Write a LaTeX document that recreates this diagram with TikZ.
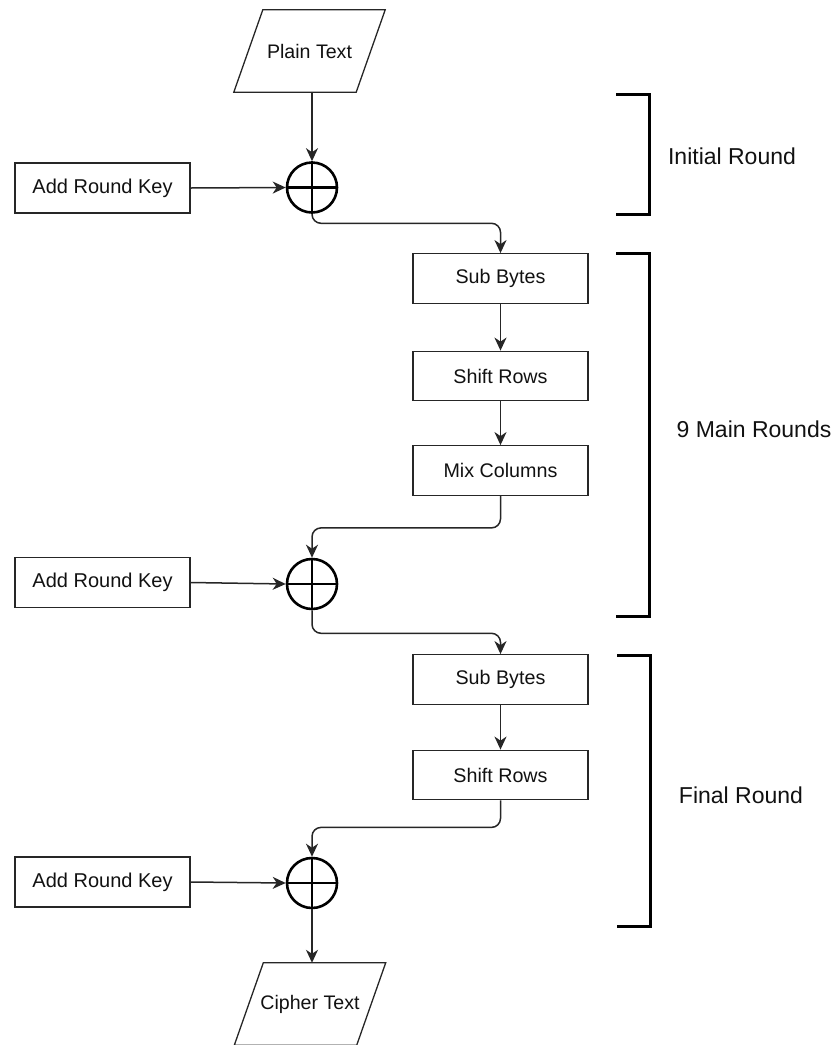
\documentclass[tikz,border=0pt]{standalone}
\usepackage{fontspec}
\setmainfont{Liberation Sans}
\usetikzlibrary{arrows.meta,calc}
\definecolor{ink}{HTML}{111111}
\definecolor{edge}{HTML}{262626}
\begin{document}
\begin{tikzpicture}[x=1pt,y=-1pt,
  stepbox/.style={draw=edge,line width=1.3pt,minimum width=175pt,minimum height=49.5pt,inner sep=0pt,
    font=\fontsize{19.7}{22}\selectfont,text=ink},
  keybox/.style={stepbox,minimum height=50pt,font=\fontsize{20}{24}\selectfont},
  xorop/.style={circle,draw=black,line width=2.6pt,minimum size=50pt,inner sep=0pt},
  iobox/.style={minimum width=122pt,minimum height=82pt,inner sep=0pt,
    font=\fontsize{19.6}{22}\selectfont,text=ink},
  ioshape/.style={draw=edge,line width=1.3pt},
  flow/.style={draw=edge,line width=1.5pt,-{Stealth[length=13pt,width=12pt,inset=4pt]},rounded corners=9pt},
  bracket/.style={draw=black,line width=3pt},
  roundlabel/.style={font=\fontsize{23}{26}\selectfont,text=ink}]

\useasboundingbox (0,0) rectangle (838,1045);

% input / output parallelograms
\node[iobox] (plain) at (309.5,51) {Plain Text};
\draw[ioshape] ([xshift=-14.5pt]plain.south west) -- ([xshift=14.5pt]plain.north west)
  -- ([xshift=14.5pt]plain.north east) -- ([xshift=-14.5pt]plain.south east) -- cycle;
\node[iobox] (cipher) at (310,1004) {Cipher Text};
\draw[ioshape] ([xshift=-14.5pt]cipher.south west) -- ([xshift=14.5pt]cipher.north west)
  -- ([xshift=14.5pt]cipher.north east) -- ([xshift=-14.5pt]cipher.south east) -- cycle;

% XOR operators
\foreach \n/\y in {xa/187.5, xb/584, xc/883} {
  \node[xorop] (\n) at (312,\y) {};
  \draw[black,line width=2.6pt] (\n.north) -- (\n.south) (\n.west) -- (\n.east);
}

% round key inputs
\node[keybox] (ka) at (102.5,188) {Add Round Key};
\node[keybox] (kb) at (102.5,582.5) {Add Round Key};
\node[keybox] (kc) at (102.5,882) {Add Round Key};

% round steps
\node[stepbox] (sba) at (500.5,278.5) {Sub Bytes};
\node[stepbox] (sra) at (500.5,376) {Shift Rows};
\node[stepbox] (mca) at (500.5,470.5) {Mix Columns};
\node[stepbox] (sbb) at (500.5,679.5) {Sub Bytes};
\node[stepbox] (srb) at (500.5,775) {Shift Rows};

% connectors
\draw[flow] (plain.south -| xa.north) -- (xa.north);
\draw[flow] (ka.east) -- (xa.west);
\draw[flow] (xa.south) -- ++(0,9.5) -| (sba.north);
\draw[flow] (sba) -- (sra);
\draw[flow] (sra) -- (mca);
\draw[flow] (mca.south) -- ++(0,32) -| (xb.north);
\draw[flow] (kb.east) -- (xb.west);
\draw[flow] (xb.south) -- ++(0,23) -| (sbb.north);
\draw[flow] (sbb) -- (srb);
\draw[flow] (srb.south) -- ++(0,27) -| (xc.north);
\draw[flow] (kc.east) -- (xc.west);
\draw[flow] (xc.south) -- (xc.south |- cipher.north);

% round brackets and their labels
\draw[bracket] (616,94) -- (649,94) -- (649,214) -- (616,214);
\draw[bracket] (616,253) -- (649,253) -- (649,616) -- (616,616);
\draw[bracket] (617,655) -- (650,655) -- (650,926) -- (617,926);
\node[roundlabel] (lini) at (732,156) {Initial Round};
\node[roundlabel] (lmain) at (754,429) {9 Main Rounds};
\node[roundlabel] (lfin) at (741,795) {Final Round};

\end{tikzpicture}
\end{document}
